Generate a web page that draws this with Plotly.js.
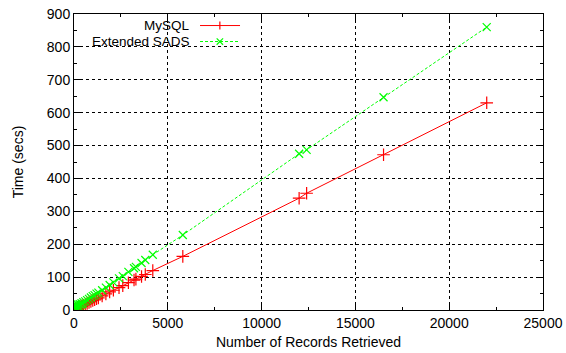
<!DOCTYPE html>
<html>
<head>
<meta charset="utf-8">
<script src="https://cdn.plot.ly/plotly-3.0.1.min.js"></script>
<style>html,body{margin:0;padding:0;background:#fff;}#chart{width:566px;height:353px;}</style>
</head>
<body>
<div id="chart"></div>
<script>
// Data
const mysqlRecords = [0, 20, 50, 80, 100, 150, 200, 250, 300, 350, 400, 450, 500, 600, 700, 800, 900, 1000, 1100, 1200, 1300, 1500, 1700, 1900, 2100, 2400, 2600, 2900, 3200, 3300, 3600, 3800, 4200, 5800, 12000, 12400, 16500, 22000];
const mysqlTime =    [0, 0.5, 1.5, 2.5, 3, 4, 6, 7, 9, 10, 11, 13, 14, 17, 20, 23, 26, 29, 31, 34, 37, 43, 49, 55, 60, 68, 74, 83, 91, 94, 102, 108, 120, 163, 340, 355, 472, 630];
const sadsRecords = [0, 10, 20, 40, 60, 80, 100, 150, 200, 250, 300, 350, 400, 450, 500, 600, 700, 800, 900, 1000, 1100, 1200, 1300, 1500, 1700, 1900, 2100, 2400, 2600, 2900, 3200, 3300, 3600, 3800, 4200, 5800, 12000, 12400, 16500, 22000];
const sadsTime =    [8, 12, 6, 15, 10, 14, 9, 13, 17, 12, 18, 16, 20, 19, 24, 26, 30, 34, 38, 42, 45, 50, 53, 60, 68, 76, 84, 96, 103, 116, 127, 131, 143, 152, 168, 228, 475, 487, 647, 860];
const seriesNames = ["MySQL", "Extended SADS"];
const xTickVals = [0, 5000, 10000, 15000, 20000, 25000];
const yTickVals = [0, 100, 200, 300, 400, 500, 600, 700, 800, 900];

const font = {family: "Liberation Sans, Arial, sans-serif", size: 14, color: "#000"};
const legendFont = {family: "Liberation Sans, Arial, sans-serif", size: 13.5, color: "#000"};

const traces = [
  {x: mysqlRecords, y: mysqlTime, name: seriesNames[0], mode: "lines+markers",
   line: {color: "#ff0000", width: 1},
   marker: {symbol: "cross-thin-open", size: 9, color: "#ff0000", line: {color: "#ff0000", width: 1.2}},
   showlegend: false},
  {x: sadsRecords, y: sadsTime, name: seriesNames[1], mode: "lines+markers",
   line: {color: "#00ff00", width: 1, dash: "3px,2px"},
   marker: {symbol: "x-thin-open", size: 8, color: "#00ff00", line: {color: "#00ff00", width: 1.2}},
   showlegend: false}
];

const axisCommon = {
  showline: true, linecolor: "#000", linewidth: 1, mirror: "allticks",
  ticks: "inside", ticklen: 6, tickcolor: "#000", tickwidth: 1,
  showgrid: true, gridcolor: "#000", gridwidth: 1, griddash: "dot",
  zeroline: false, tickfont: font
};

const lx0 = 0.2687, lx1 = 0.354, lxm = 0.311, ly1 = 0.961, ly2 = 0.907, ltx = 0.249;
const hy = 4 / 296, dx = 3.2 / 469, dy = 3.2 / 296;

const layout = {
  width: 566, height: 353,
  margin: {l: 74, r: 23, t: 14, b: 43},
  paper_bgcolor: "#fff", plot_bgcolor: "#fff",
  font: font,
  showlegend: false,
  xaxis: Object.assign({}, axisCommon, {
    range: [0, 25000], tickvals: xTickVals, ticktext: xTickVals.map(String),
    minor: {dtick: 2500, tick0: 0, ticks: "inside", ticklen: 3, tickcolor: "#000", showgrid: false},
    title: {text: "Number of Records Retrieved", font: font, standoff: 7}
  }),
  yaxis: Object.assign({}, axisCommon, {
    range: [0, 900], tickvals: yTickVals, ticktext: yTickVals.map(String),
    minor: {dtick: 50, tick0: 0, ticks: "inside", ticklen: 3, tickcolor: "#000", showgrid: false},
    title: {text: "Time (secs)", font: font, standoff: 19}
  }),
  annotations: [
    {xref: "paper", yref: "paper", x: ltx, y: ly1, xanchor: "right", yanchor: "middle", borderpad: 0, text: seriesNames[0], showarrow: false, font: legendFont},
    {xref: "paper", yref: "paper", x: ltx, y: ly2, xanchor: "right", yanchor: "middle", borderpad: 0, text: seriesNames[1], showarrow: false, font: legendFont}
  ],
  shapes: [
    {type: "line", xref: "paper", yref: "paper", x0: lx0, x1: lx1, y0: ly1, y1: ly1, line: {color: "#ff0000", width: 1}},
    {type: "line", xref: "paper", yref: "paper", x0: lx0, x1: lx1, y0: ly2, y1: ly2, line: {color: "#00ff00", width: 1, dash: "3px,2px"}},
    {type: "line", xref: "paper", yref: "paper", x0: lxm, x1: lxm, y0: ly1 - hy, y1: ly1 + hy, line: {color: "#ff0000", width: 1.2}},
    {type: "line", xref: "paper", yref: "paper", x0: lxm - dx, x1: lxm + dx, y0: ly2 - dy, y1: ly2 + dy, line: {color: "#00ff00", width: 1.2}},
    {type: "line", xref: "paper", yref: "paper", x0: lxm - dx, x1: lxm + dx, y0: ly2 + dy, y1: ly2 - dy, line: {color: "#00ff00", width: 1.2}}
  ]
};

Plotly.newPlot("chart", traces, layout, {staticPlot: true, displayModeBar: false});
</script>
</body>
</html>
